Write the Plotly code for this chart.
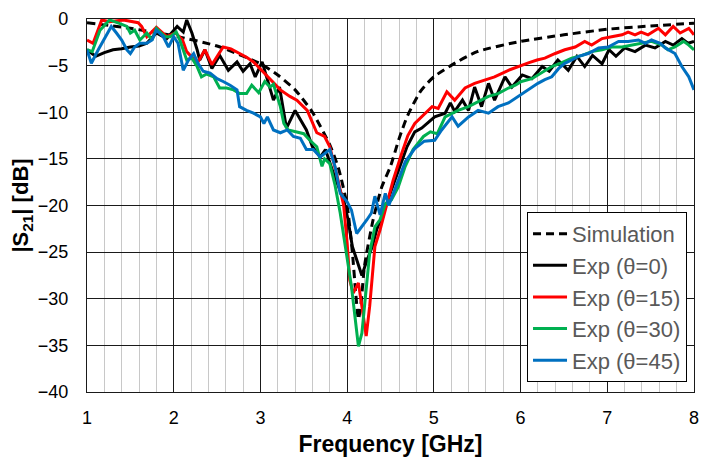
import plotly.graph_objects as go

# frequency [GHz] / |S21| [dB]
sim_f = [1.0, 1.5, 2.0, 2.5, 3.0, 3.2, 3.4, 3.6, 3.8, 3.9, 4.0, 4.06, 4.1, 4.13, 4.16, 4.2,
         4.3, 4.4, 4.5, 4.6, 4.7, 4.85, 5.0, 5.25, 5.5, 6.0, 6.5, 7.0, 7.5, 8.0]
sim_db = [-0.4, -1.0, -1.8, -2.9, -4.8, -6.0, -7.6, -10.0, -13.5, -16.0, -20.0, -25.0, -29.5, -32.2, -30.5, -26.5,
          -21.5, -18.0, -15.8, -12.8, -10.3, -7.7, -6.2, -4.7, -3.5, -2.4, -1.7, -1.1, -0.75, -0.45]

exp0_f = [1.00, 1.10, 1.20, 1.30, 1.40, 1.50, 1.60, 1.69, 1.80, 1.92, 2.04, 2.11, 2.15, 2.21, 2.27, 2.30,
          2.36, 2.44, 2.53, 2.63, 2.73, 2.80, 2.88, 2.94, 3.02, 3.08, 3.15, 3.22, 3.30, 3.40, 3.47, 3.53,
          3.60, 3.69, 3.75, 3.84, 3.96, 4.01, 4.06, 4.11, 4.17, 4.22, 4.29, 4.34, 4.42, 4.50, 4.58, 4.69,
          4.78, 4.86, 5.01, 5.13, 5.19, 5.24, 5.33, 5.40, 5.47, 5.55, 5.63, 5.70, 5.82, 5.90, 6.02, 6.13,
          6.25, 6.33, 6.43, 6.55, 6.65, 6.74, 6.83, 6.94, 7.02, 7.10, 7.20, 7.32, 7.44, 7.55, 7.67, 7.76,
          7.86, 7.93, 8.00]
exp0_db = [-3.3, -4.0, -3.6, -3.3, -3.2, -3.0, -2.9, -2.6, -1.5, -2.1, -0.8, -1.4, -0.1, -1.5, -3.3, -4.4,
           -3.3, -5.3, -3.9, -5.5, -4.6, -5.6, -4.8, -6.2, -4.6, -6.5, -8.7, -7.3, -11.7, -9.8, -11.0, -11.9,
           -13.7, -14.8, -14.0, -16.5, -19.4, -21.5, -24.4, -25.8, -27.5, -26.1, -24.4, -22.6, -20.8, -18.6, -16.5, -13.7,
           -12.1, -11.7, -10.5, -10.1, -9.0, -9.9, -8.7, -9.8, -7.3, -9.4, -6.9, -8.7, -6.2, -7.3, -6.0, -6.4,
           -5.1, -5.6, -4.4, -5.5, -4.0, -5.1, -3.9, -4.8, -3.3, -4.0, -3.1, -3.5, -2.8, -3.1, -2.4, -2.8,
           -2.1, -2.6, -2.4]

exp15_f = [1.00, 1.07, 1.17, 1.26, 1.42, 1.59, 1.63, 1.69, 1.80, 1.92, 2.02, 2.10, 2.15, 2.20, 2.28, 2.36,
           2.44, 2.50, 2.57, 2.66, 2.76, 2.84, 2.92, 3.01, 3.11, 3.23, 3.34, 3.42, 3.54, 3.65, 3.74, 3.80,
           3.88, 3.96, 4.00, 4.03, 4.07, 4.13, 4.17, 4.22, 4.26, 4.32, 4.38, 4.46, 4.53, 4.63, 4.70, 4.78,
           4.86, 4.98, 5.05, 5.15, 5.24, 5.36, 5.47, 5.59, 5.70, 5.86, 5.97, 6.09, 6.19, 6.28, 6.40, 6.51,
           6.63, 6.74, 6.82, 6.94, 7.05, 7.17, 7.24, 7.32, 7.39, 7.47, 7.59, 7.67, 7.76, 7.84, 7.94, 8.00]
exp15_db = [-2.25, -2.6, -0.1, -0.3, -0.1, -0.4, -0.8, -1.9, -0.9, -1.9, -1.5, -2.2, -3.5, -4.0, -4.6, -3.3,
            -4.9, -4.0, -3.0, -3.2, -3.7, -4.1, -4.6, -5.5, -6.4, -7.6, -8.3, -8.7, -9.8, -12.2, -12.6, -13.7,
            -16.7, -20.0, -24.0, -28.0, -29.4, -28.3, -30.8, -34.0, -30.8, -24.4, -22.6, -19.8, -17.3, -14.4, -12.5, -11.2,
            -10.5, -9.4, -9.6, -7.8, -8.7, -7.4, -6.9, -6.5, -6.2, -5.5, -5.1, -4.7, -4.4, -4.2, -3.7, -3.3,
            -3.0, -2.4, -2.8, -2.1, -1.9, -1.7, -1.4, -1.7, -1.4, -1.7, -1.0, -1.7, -0.8, -1.5, -1.0, -1.7]

exp30_f = [1.00, 1.06, 1.15, 1.26, 1.38, 1.46, 1.50, 1.55, 1.61, 1.69, 1.75, 1.80, 1.90, 1.96, 2.03, 2.07,
           2.15, 2.21, 2.27, 2.32, 2.38, 2.46, 2.53, 2.61, 2.69, 2.76, 2.84, 2.90, 2.98, 3.05, 3.11, 3.15,
           3.23, 3.27, 3.32, 3.42, 3.50, 3.57, 3.65, 3.71, 3.74, 3.80, 3.86, 3.92, 3.98, 4.01, 4.05, 4.09,
           4.13, 4.17, 4.21, 4.26, 4.32, 4.38, 4.44, 4.51, 4.59, 4.67, 4.76, 4.88, 4.96, 5.04, 5.13, 5.21,
           5.28, 5.40, 5.51, 5.63, 5.74, 5.86, 5.94, 6.01, 6.13, 6.24, 6.36, 6.47, 6.59, 6.71, 6.82, 6.94,
           7.05, 7.17, 7.28, 7.40, 7.51, 7.63, 7.70, 7.78, 7.88, 7.94, 8.00]
exp30_db = [-3.3, -3.5, -1.2, -0.1, -0.5, -0.8, -1.5, -1.2, -2.25, -1.5, -2.25, -1.0, -1.9, -1.9, -1.4, -2.25,
            -4.4, -4.2, -5.1, -6.2, -5.9, -6.2, -7.4, -7.4, -7.6, -8.0, -8.0, -7.1, -7.9, -6.7, -7.3, -7.0,
            -9.4, -11.2, -11.9, -12.1, -12.3, -13.0, -13.7, -15.8, -15.0, -15.5, -17.8, -20.8, -24.4, -25.8, -28.7, -31.9,
            -35.1, -33.7, -29.8, -25.1, -22.3, -21.5, -19.8, -19.4, -18.0, -15.8, -14.0, -12.6, -12.1, -12.3, -10.5, -10.1,
            -9.8, -9.4, -8.9, -8.3, -8.0, -7.4, -7.1, -6.7, -6.4, -5.8, -5.1, -4.7, -4.2, -3.9, -3.5, -3.3,
            -3.0, -3.0, -2.8, -2.6, -2.4, -2.8, -3.3, -3.0, -2.4, -2.8, -3.3]

exp45_f = [1.00, 1.05, 1.13, 1.21, 1.28, 1.34, 1.40, 1.46, 1.50, 1.55, 1.61, 1.69, 1.75, 1.80, 1.88, 1.94,
           2.00, 2.05, 2.11, 2.17, 2.23, 2.28, 2.34, 2.42, 2.50, 2.57, 2.65, 2.73, 2.76, 2.84, 2.92, 3.00,
           3.04, 3.08, 3.15, 3.23, 3.31, 3.38, 3.46, 3.53, 3.61, 3.69, 3.76, 3.80, 3.86, 3.92, 4.00, 4.05,
           4.11, 4.17, 4.23, 4.28, 4.32, 4.38, 4.44, 4.48, 4.55, 4.67, 4.78, 4.89, 5.01, 5.09, 5.21, 5.28,
           5.40, 5.51, 5.63, 5.74, 5.86, 5.97, 6.09, 6.20, 6.28, 6.36, 6.44, 6.51, 6.59, 6.67, 6.78, 6.90,
           7.01, 7.13, 7.24, 7.36, 7.44, 7.51, 7.61, 7.67, 7.78, 7.86, 7.94, 8.00]
exp45_db = [-3.3, -4.75, -3.3, -1.9, -0.8, -1.5, -2.25, -3.3, -3.7, -3.0, -2.6, -2.6, -2.25, -1.2, -1.9, -3.0,
            -1.9, -2.6, -5.5, -4.4, -3.7, -4.75, -5.6, -5.8, -6.4, -6.7, -7.1, -7.6, -9.4, -9.8, -10.1, -10.5,
            -11.2, -10.5, -11.9, -12.2, -11.9, -12.6, -12.8, -14.0, -14.0, -14.8, -14.3, -14.0, -15.8, -18.7, -19.6, -20.5,
            -23.0, -22.3, -21.5, -20.8, -19.0, -21.0, -18.7, -20.0, -18.3, -15.3, -13.9, -13.1, -13.0, -11.9, -10.5, -11.5,
            -10.5, -9.8, -10.1, -9.4, -9.0, -8.3, -7.6, -6.9, -6.5, -6.2, -5.3, -4.75, -4.4, -4.0, -3.7, -3.1,
            -3.0, -2.4, -2.4, -2.25, -2.6, -2.25, -2.6, -3.1, -3.7, -5.1, -6.2, -7.6]

FONT = "Arial, Liberation Sans, sans-serif"
GRID = "#1a1a1a"

fig = go.Figure()
fig.add_trace(go.Scatter(x=sim_f, y=sim_db, name="Simulation", mode="lines",
                         line=dict(color="black", width=3, dash="8px,5px", shape="spline", smoothing=0.6)))
for f, v, name, col in [(exp0_f, exp0_db, "Exp (θ=0)", "#000000"),
                        (exp15_f, exp15_db, "Exp (θ=15)", "#FF0000"),
                        (exp30_f, exp30_db, "Exp (θ=30)", "#00B050"),
                        (exp45_f, exp45_db, "Exp (θ=45)", "#0070C0")]:
    fig.add_trace(go.Scatter(x=f, y=v, name=name, mode="lines",
                             line=dict(color=col, width=3)))

fig.update_xaxes(range=[1, 8], dtick=1, tick0=1, automargin=False,
                 showgrid=True, gridcolor=GRID, gridwidth=1.3,
                 minor=dict(dtick=0.2, tick0=1, showgrid=True, gridcolor="#c8c8c8", gridwidth=1),
                 showline=True, linecolor=GRID, linewidth=1.3, mirror=True,
                 ticks="outside", ticklen=9, tickcolor="rgba(0,0,0,0)",
                 tickfont=dict(family=FONT, size=18, color="black"),
                 title=dict(text="<b>Frequency [GHz]</b>", font=dict(family=FONT, size=23, color="black"),
                            standoff=9),
                 zeroline=False)
fig.update_yaxes(range=[-40, 0], dtick=5, automargin=False,
                 showgrid=True, gridcolor=GRID, gridwidth=1.3,
                 showline=True, linecolor=GRID, linewidth=1.3, mirror=True,
                 ticks="outside", ticklen=14, tickcolor="rgba(0,0,0,0)",
                 tickfont=dict(family=FONT, size=18, color="black"),
                 title=dict(text="<b>|S<sub>21</sub>| [dB]</b>", font=dict(family=FONT, size=22, color="black"),
                            standoff=7),
                 zeroline=False)

# page body has an 8px margin, so the figure is 8px smaller and margins shifted
fig.update_layout(width=707, height=462,
                  margin=dict(l=79, r=21, t=11, b=78, autoexpand=False),
                  plot_bgcolor="white", paper_bgcolor="white",
                  legend=dict(x=0.9885, y=0.027, xanchor="right", yanchor="bottom",
                              bgcolor="white", bordercolor="black", borderwidth=1,
                              font=dict(family=FONT, size=22, color="#595959"),
                              itemwidth=34, tracegroupgap=0))

fig.write_html("out.html")
